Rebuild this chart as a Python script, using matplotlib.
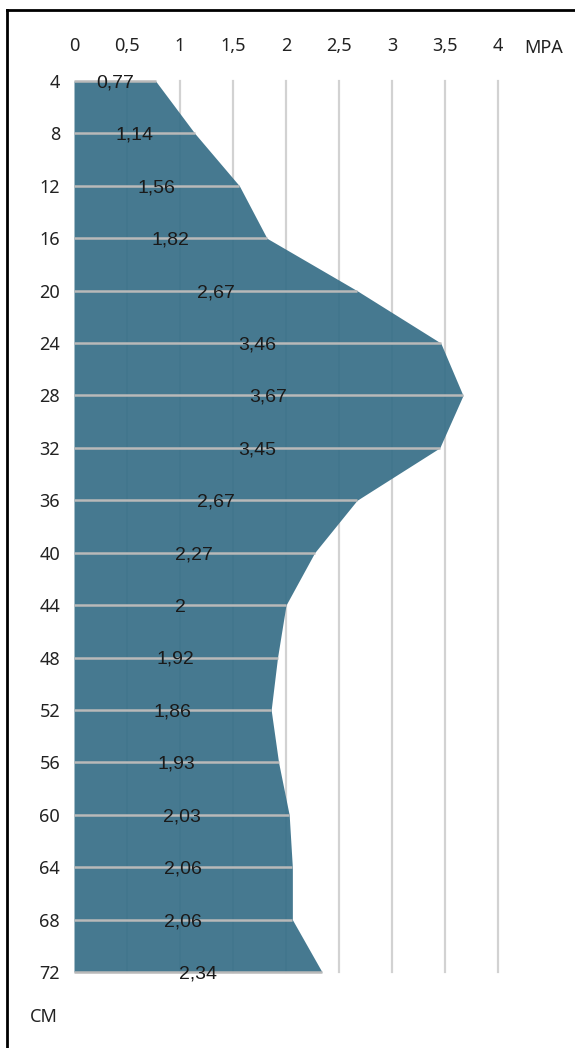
import matplotlib
matplotlib.use("Agg")
import matplotlib.pyplot as plt
from matplotlib.lines import Line2D

depth_cm = [4, 8, 12, 16, 20, 24, 28, 32, 36, 40, 44, 48, 52, 56, 60, 64, 68, 72]
pressure_mpa = [0.77, 1.14, 1.56, 1.82, 2.67, 3.46, 3.67, 3.45, 2.67, 2.27, 2.0,
                1.92, 1.86, 1.93, 2.03, 2.06, 2.06, 2.34]
x_ticks = [0, 0.5, 1, 1.5, 2, 2.5, 3, 3.5, 4]
x_tick_labels = ["0", "0,5", "1", "1,5", "2", "2,5", "3", "3,5", "4"]
x_unit = "MPA"
y_unit = "CM"

W, H = 575, 1048
fig = plt.figure(figsize=(W / 100, H / 100), dpi=100)
fig.patch.set_facecolor("white")

left, right, top, bottom = 74, 498, 81, 972
ax = fig.add_axes([left / W, 1 - bottom / H, (right - left) / W, (bottom - top) / H])
ax.set_xlim(0, 4)
ax.set_ylim(72, 4)
for s in ax.spines.values():
    s.set_visible(False)
ax.set_facecolor("none")

for xt in x_ticks[1:]:
    ax.plot([xt, xt], [4, 72], color="#d2d2d2", lw=1.6, zorder=1, clip_on=False)

ax.fill_betweenx(depth_cm, 0, pressure_mpa, color="#366e87", alpha=0.92, lw=0, zorder=2)

for d, v in zip(depth_cm, pressure_mpa):
    ax.plot([0, v], [d, d], color="#b9b9b9", lw=1.8, zorder=3, clip_on=False,
            solid_capstyle="butt")

for d, v in zip(depth_cm, pressure_mpa):
    lab = f"{v:g}".replace(".", ",")
    ax.text(v / 2, d + 0.15, lab, ha="center", va="center", fontsize=14,
            family=["Liberation Sans", "DejaVu Sans"], color="#1a1a1a", zorder=4)

ax.xaxis.tick_top()
ax.set_xticks(x_ticks)
ax.set_xticklabels(x_tick_labels)
ax.set_yticks(depth_cm)
ax.set_yticklabels([str(d) for d in depth_cm])
ax.tick_params(axis="x", length=0, pad=19, labelsize=13, labelcolor="#222222")
ax.tick_params(axis="y", length=0, pad=10, labelsize=13, labelcolor="#222222")
for lbl in ax.get_xticklabels() + ax.get_yticklabels():
    lbl.set_family(["Noto Sans", "DejaVu Sans"])

fig.text(544 / W, 1 - 48 / H, x_unit, ha="center", va="center", fontsize=13,
         family=["Noto Sans", "DejaVu Sans"], color="#222222")
fig.text(44 / W, 1 - 1017 / H, y_unit, ha="center", va="center", fontsize=13,
         family=["Noto Sans", "DejaVu Sans"], color="#222222")

fig.add_artist(Line2D([7 / W, 7 / W], [0, 1 - 10 / H], color="black", lw=2,
                      transform=fig.transFigure))
fig.add_artist(Line2D([7 / W, 1], [1 - 10 / H, 1 - 10 / H], color="black", lw=2,
                      transform=fig.transFigure))

fig.savefig("out.png", dpi=100)
